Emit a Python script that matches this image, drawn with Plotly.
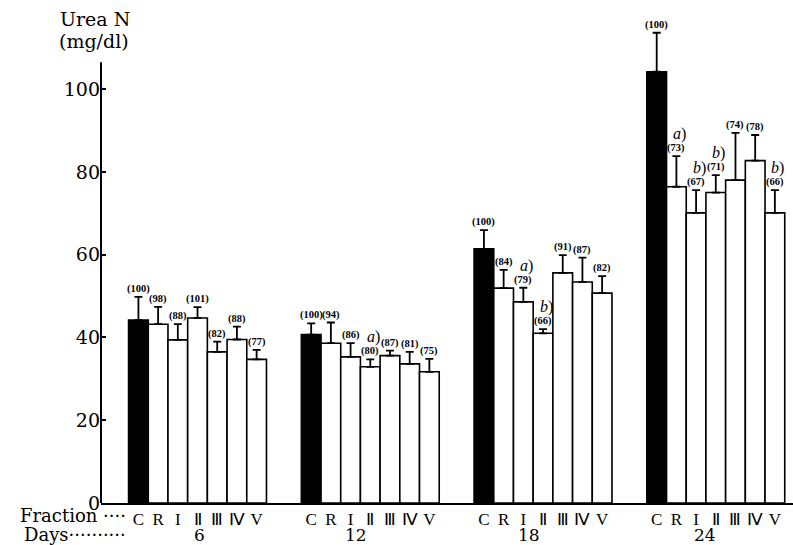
import plotly.graph_objects as go

# ---------------- data ----------------
days = [6, 12, 18, 24]
fractions = ["C", "R", "I", "Ⅱ", "Ⅲ", "Ⅳ", "V"]

mean_d6 = [44.2, 43.2, 39.4, 44.7, 36.5, 39.5, 34.7]
sd_d6 = [5.6, 4.2, 3.8, 2.6, 2.5, 3.1, 2.3]
pct_d6 = ["(100)", "(98)", "(88)", "(101)", "(82)", "(88)", "(77)"]
sig_d6 = ["", "", "", "", "", "", ""]

mean_d12 = [40.7, 38.6, 35.3, 32.9, 35.6, 33.6, 31.7]
sd_d12 = [2.7, 5.0, 3.3, 1.8, 1.2, 2.9, 3.1]
pct_d12 = ["(100)", "(94)", "(86)", "(80)", "(87)", "(81)", "(75)"]
sig_d12 = ["", "", "", "a", "", "", ""]

mean_d18 = [61.4, 51.9, 48.6, 41.0, 55.6, 53.4, 50.7]
sd_d18 = [4.5, 4.4, 3.4, 1.0, 4.3, 5.9, 4.1]
pct_d18 = ["(100)", "(84)", "(79)", "(66)", "(91)", "(87)", "(82)"]
sig_d18 = ["", "", "a", "b", "", "", ""]

mean_d24 = [104.2, 76.4, 70.1, 75.0, 78.0, 82.7, 70.1]
sd_d24 = [9.4, 7.4, 5.5, 4.2, 11.4, 6.2, 5.5]
pct_d24 = ["(100)", "(73)", "(67)", "(71)", "(74)", "(78)", "(66)"]
sig_d24 = ["", "a", "b", "b", "", "", "b"]

y_ticks = [0, 20, 40, 60, 80, 100]

means = [mean_d6, mean_d12, mean_d18, mean_d24]
sds = [sd_d6, sd_d12, sd_d18, sd_d24]
pcts = [pct_d6, pct_d12, pct_d18, pct_d24]
sigs = [sig_d6, sig_d12, sig_d18, sig_d24]

# ---------------- layout helpers ----------------
GROUP_STEP = 8.77
day_label_shift = [0.1, -0.75, -0.7, -0.55]
F_DJ = "DejaVu Serif"
F_LB = "Liberation Serif"

xs, ys, es, cols, tickv, tickt = [], [], [], [], [], []
annotations = []
for g in range(len(days)):
    for j, f in enumerate(fractions):
        x = g * GROUP_STEP + j
        m = means[g][j]
        s = sds[g][j]
        xs.append(x)
        ys.append(m)
        es.append(s)
        cols.append("black" if j == 0 else "white")
        tickv.append(x)
        tickt.append(f)
        annotations.append(dict(
            x=x, y=m + s, xref="x", yref="y", text="<b>" + pcts[g][j] + "</b>",
            showarrow=False, yanchor="bottom", yshift=0,
            font=dict(family=F_LB, size=10.5, color="black")))
        if sigs[g][j]:
            annotations.append(dict(
                x=x, y=m + s, xref="x", yref="y",
                text="<i>" + sigs[g][j] + "</i>)",
                showarrow=False, yanchor="middle", yshift=22, xshift=3,
                font=dict(family=F_LB, size=16, color="black")))
    annotations.append(dict(
        x=g * GROUP_STEP + 3 + day_label_shift[g], y=-0.064,
        xref="x", yref="paper", text=str(days[g]), showarrow=False,
        yanchor="middle", font=dict(family=F_DJ, size=17, color="black")))

annotations += [
    dict(x=-0.062, y=0.982, xref="paper", yref="paper", text="Urea N",
         showarrow=False, xanchor="left", yanchor="middle",
         font=dict(family=F_DJ, size=19, color="black")),
    dict(x=-0.064, y=0.937, xref="paper", yref="paper", text="(mg/dl)",
         showarrow=False, xanchor="left", yanchor="middle",
         font=dict(family=F_DJ, size=19, color="black")),
    dict(x=0.039, y=-0.025, xref="paper", yref="paper", text="Fraction ····",
         showarrow=False, xanchor="right", yanchor="middle",
         font=dict(family=F_DJ, size=18, color="black")),
    dict(x=0.039, y=-0.064, xref="paper", yref="paper", text="Days··········",
         showarrow=False, xanchor="right", yanchor="middle",
         font=dict(family=F_DJ, size=18, color="black")),
]

fig = go.Figure(go.Bar(
    x=xs, y=ys, width=[1] * len(xs),
    marker=dict(color=cols, line=dict(color="black", width=1.6)),
    error_y=dict(type="data", symmetric=False, array=es,
                 arrayminus=[0] * len(es), color="black",
                 thickness=1.8, width=4),
    showlegend=False, hoverinfo="skip"))

fig.update_layout(
    width=793, height=545,
    margin=dict(l=101, r=0, t=10, b=42),
    paper_bgcolor="white", plot_bgcolor="white",
    annotations=annotations,
    shapes=[dict(type="line", xref="paper", yref="y", x0=0, x1=0,
                 y0=0, y1=106.5, line=dict(color="black", width=2))],
    xaxis=dict(range=[-1.9, 33.23], tickvals=tickv, ticktext=tickt,
               tickangle=0, automargin=False,
               showgrid=False, zeroline=False, showline=True,
               linecolor="black", linewidth=2, ticks="",
               tickfont=dict(family=F_LB, size=17, color="black")),
    yaxis=dict(range=[0, 119.1], tickvals=y_ticks, showgrid=False,
               automargin=False,
               zeroline=False, showline=False, ticks="inside",
               ticklen=5, tickwidth=1.5, tickcolor="black",
               tickfont=dict(family=F_DJ, size=19, color="black")),
)

fig.write_html("out.html", config={"displayModeBar": False},
               post_script="document.body.style.margin='0';")
